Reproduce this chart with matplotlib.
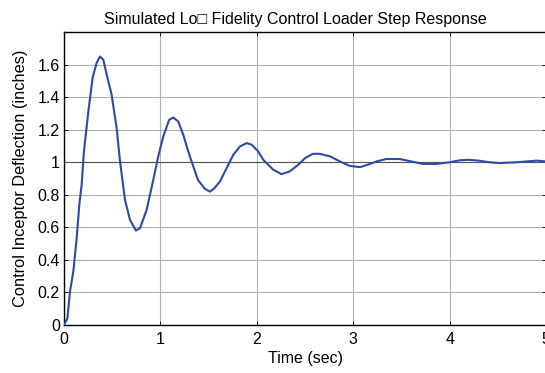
import matplotlib
matplotlib.use("Agg")
import matplotlib.pyplot as plt

time_s = [0.0, 0.035, 0.062, 0.097, 0.131, 0.159, 0.183, 0.207, 0.252, 0.297, 0.338,
          0.373, 0.408, 0.442, 0.494, 0.546, 0.58, 0.632, 0.684, 0.746, 0.788, 0.857,
          0.925, 0.977, 1.03, 1.09, 1.133, 1.185, 1.236, 1.288, 1.34, 1.39, 1.46,
          1.513, 1.554, 1.617, 1.686, 1.755, 1.824, 1.893, 1.945, 2.013, 2.066, 2.1,
          2.17, 2.256, 2.34, 2.43, 2.5, 2.58, 2.65, 2.76, 2.86, 2.96, 3.07, 3.15,
          3.24, 3.34, 3.48, 3.6, 3.72, 3.86, 4.0, 4.1, 4.2, 4.3, 4.41, 4.52, 4.69,
          4.9, 5.0]
deflection = [0.0, 0.04, 0.205, 0.33, 0.53, 0.74, 0.86, 1.067, 1.31, 1.52, 1.61,
              1.65, 1.63, 1.54, 1.415, 1.21, 1.01, 0.77, 0.646, 0.58, 0.595, 0.708,
              0.89, 1.036, 1.16, 1.26, 1.275, 1.25, 1.17, 1.067, 0.975, 0.89, 0.837,
              0.82, 0.837, 0.882, 0.964, 1.046, 1.097, 1.118, 1.108, 1.067, 1.015, 0.995,
              0.954, 0.927, 0.944, 0.985, 1.026, 1.052, 1.052, 1.036, 1.005, 0.978, 0.97, 0.985,
              1.005, 1.02, 1.02, 1.005, 0.99, 0.99, 1.0, 1.012, 1.015, 1.01, 1.0, 0.995, 1.0,
              1.01, 1.005]

x_ticks = [0, 1, 2, 3, 4, 5]
y_ticks = [0, 0.2, 0.4, 0.6, 0.8, 1, 1.2, 1.4, 1.6]
y_tick_labels = ["0", "0.2", "0.4", "0.6", "0.8", "1", "1.2", "1.4", "1.6"]

plt.rcParams['font.family'] = ['Liberation Sans', 'DejaVu Sans']
plt.rcParams['font.size'] = 11.5

fig = plt.figure(figsize=(5.45, 3.73), dpi=100)
ax = fig.add_axes([0.1174, 0.1287, 0.885, 0.7853])

ax.plot(time_s, deflection, color='#2b4ba8', linewidth=1.5, zorder=3)
ax.axhline(1.0, color='#555555', linewidth=0.8, zorder=2)

ax.set_xlim(0, 5)
ax.set_ylim(0, 1.8)
ax.set_xticks(x_ticks)
ax.set_yticks(y_ticks)
ax.set_yticklabels(y_tick_labels)
ax.grid(True, color='#b0b0b0', linewidth=0.8, linestyle='-')
ax.set_axisbelow(True)
ax.tick_params(direction='in', length=3, width=0.6, top=True, right=True,
               labelsize=11.5, colors='black')
ax.tick_params(axis='x', pad=5)
ax.tick_params(axis='y', pad=3)
for sp in ax.spines.values():
    sp.set_linewidth(1.0)
    sp.set_color('black')

ax.set_title("Simulated Lo\u25a1 Fidelity Control Loader Step Response", fontsize=11.5, pad=6, x=0.48)
ax.set_xlabel("Time (sec)", fontsize=11.5, labelpad=3)
ax.set_ylabel("Control Inceptor Deflection (inches)", fontsize=11.8, labelpad=7)

fig.savefig("out.png", dpi=100)
